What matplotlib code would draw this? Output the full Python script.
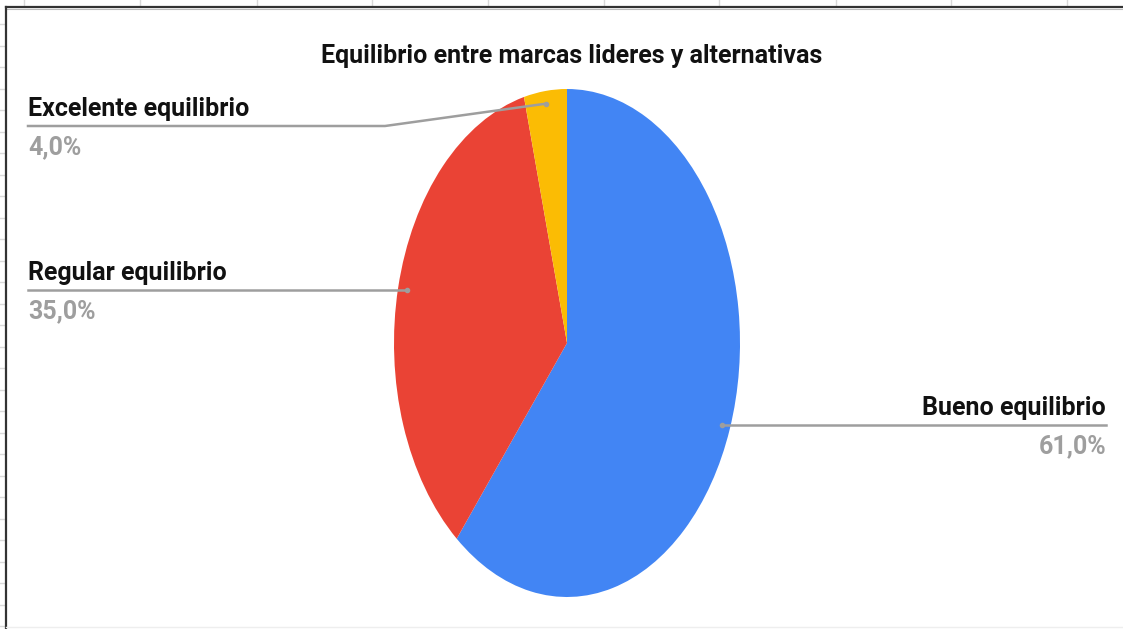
import math
import matplotlib.pyplot as plt
from matplotlib import font_manager

# slice data
labels = ['Bueno equilibrio', 'Regular equilibrio', 'Excelente equilibrio']
values = [61.0, 35.0, 4.0]
colors = ['#4285f4', '#ea4335', '#fbbc04']
title = 'Equilibrio entre marcas lideres y alternativas'

names = {f.name for f in font_manager.fontManager.ttflist}
family = ['Liberation Sans Narrow', 'Roboto', 'DejaVu Sans']
family = [f for f in family if f in names] or ['DejaVu Sans']
fs = 18

W, H = 1123, 629
fig = plt.figure(figsize=(W / 100, H / 100), dpi=100)
fig.patch.set_facecolor('white')

# elliptical pie: axes box sized to the ellipse
cx, cy, rx, ry = 567, 343, 173, 254
pax = fig.add_axes([(cx - rx) / W, 1 - (cy + ry) / H, 2 * rx / W, 2 * ry / H])
pax.pie(values, colors=colors, startangle=90, counterclock=False,
        wedgeprops=dict(linewidth=0))
pax.set_aspect('auto')
pax.set_xlim(-1, 1)
pax.set_ylim(-1, 1)
pax.axis('off')

# overlay in pixel coordinates for sheet grid, frame, title and labels
ax = fig.add_axes([0, 0, 1, 1])
ax.set_xlim(0, W)
ax.set_ylim(H, 0)
ax.axis('off')
ax.patch.set_alpha(0)

for x in [24, 140, 257, 372, 488, 604, 719, 836, 951, 1067]:
    ax.plot([x, x], [0, 6], color='#d9d9d9', lw=1)
y = 24
while y < H:
    ax.plot([0, 5], [y, y], color='#d9d9d9', lw=1)
    y += 21.5
ax.plot([6, W], [7, 7], color='#333333', lw=1.6)
ax.plot([6, W], [9, 9], color='#bbbbbb', lw=0.8)
ax.plot([6, 6], [7, H], color='#333333', lw=1.6)
ax.plot([6, W], [627, 627], color='#eeeeee', lw=1)

ax.text(572, 56, title, ha='center', va='center', fontsize=fs,
        fontweight='bold', color='#111111', family=family)

grey = '#9e9e9e'


def slice_point(frac_mid, r=0.95):
    # point inside a slice, clockwise from the top
    a = math.radians(90 - 360 * frac_mid)
    return cx + r * rx * math.cos(a), cy - r * ry * math.sin(a)


total = sum(values)
cum = 0
mids = []
for v in values:
    mids.append((cum + v / 2) / total)
    cum += v


def label(x, ly, i, ha):
    ax.text(x, ly - 5, labels[i], ha=ha, va='bottom', fontsize=fs,
            fontweight='bold', color='#111111', family=family)
    ax.text(x, ly + 9, f'{values[i]:.1f}%'.replace('.', ','), ha=ha,
            va='top', fontsize=fs, fontweight='bold', color=grey, family=family)


# Bueno (right side)
px, py = slice_point(mids[0])
ax.plot([px, 1106], [py, py], color=grey, lw=1.8)
ax.plot(px, py, 'o', color=grey, ms=3)
label(1106, py, 0, 'right')

# Regular (left side)
px, py = slice_point(mids[1])
ax.plot([28, px], [py, py], color=grey, lw=1.8)
ax.plot(px, py, 'o', color=grey, ms=3)
label(28, py, 1, 'left')

# Excelente (top left, bent leader)
px, py = slice_point(mids[2])
ly = 126
ax.plot([28, 385, px], [ly, ly, py], color=grey, lw=1.8)
ax.plot(px, py, 'o', color=grey, ms=3)
label(28, ly, 2, 'left')

fig.savefig('out.png', dpi=100, facecolor='white')
